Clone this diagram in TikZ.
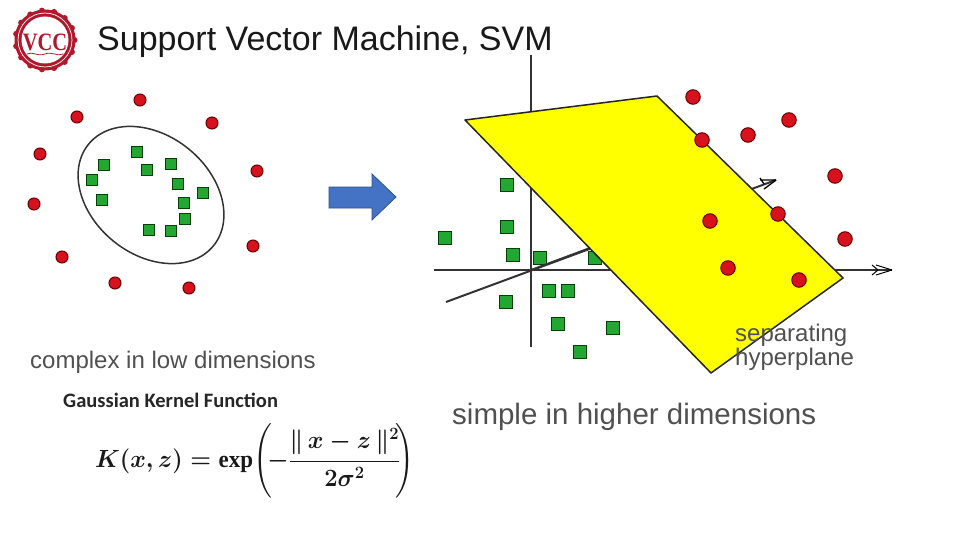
\documentclass[tikz,border=0pt]{standalone}
\usepackage{fontspec}
\usepackage{amsmath}
\setmainfont{Liberation Sans}
\newfontfamily\carl{Carlito}
\newfontfamily\tms{Liberation Serif}
\usetikzlibrary{arrows.meta}
\definecolor{grn}{HTML}{22A832}
\definecolor{redd}{HTML}{D8111E}
\definecolor{logored}{HTML}{B0182C}
\definecolor{lbl}{HTML}{505050}
\definecolor{bluearrow}{HTML}{4472C4}
\definecolor{bluedge}{HTML}{2F528F}
\definecolor{planeyellow}{HTML}{FFFF00}
\newcommand{\kernelformula}{\mbox{\boldmath$\displaystyle K(x,z)=\mbox{\tms\bfseries exp}\!\left(\vcenter{\hbox{\rule{0pt}{74pt}}}\!{-}\frac{\Vert\,x-z\,\Vert^2}{2\sigma^2}\!\right)$}}
\tikzset{
  gs/.style={draw=black!75!green,line width=1pt,fill=grn,minimum size=11pt,inner sep=0pt,shape=rectangle},
  rd/.style={draw=black!60!red,line width=1pt,fill=redd,minimum size=12pt,inner sep=0pt,shape=circle},
  rdb/.style={rd,minimum size=14.5pt},
  gsb/.style={gs,minimum size=12.5pt},
  axis/.style={draw=black!80,line width=2pt},
  lab/.style={text=lbl,inner sep=0pt,anchor=base west}
}
\begin{document}
\begin{tikzpicture}[x=1pt,y=-1pt]
\useasboundingbox (0,0) rectangle (960,540);
\fill[white] (0,0) rectangle (960,540);
% logo
\fill[logored] (45,40) circle (30.5);
\foreach \a in {0,24,...,336}{\fill[logored] (45,40) ++(\a:29.5) circle (3);}
\draw[white,line width=.7pt] (45,40) circle (27);
\fill[white] (45,40) circle (23.5);
\node[inner sep=0pt,text=logored,font=\tms\bfseries\fontsize{25}{25}\selectfont,xscale=.82] (logotext) at (45,42) {VCC};
\draw[logored,line width=.8pt] (27,54) .. controls (33,51) and (37,57) .. (45,54) .. controls (52,51) and (57,57) .. (63,54);
% title
\node[inner sep=0pt,anchor=base west,font=\fontsize{34}{34}\selectfont,text=black!90] (title) at (97,50.5) {Support Vector Machine, SVM};
% left cluster
\draw[black!80,line width=1.5pt,rotate around={-39:(151,195)}] (151,195) ellipse (80.5 and 59.5);
\foreach \p/\q in {140/100,77/117,212/123,40/154,257/171,34/204,253/246,62/257,115/283,189/288}
  \node[rd] at (\p,\q) {};
\foreach \p/\q in {137/152,104/165,147/170,171/164,92/180,178/184,102/200,203/193,184/203,185/219,149/230,171/231}
  \node[gs] at (\p,\q) {};
\node[lab,font=\fontsize{24}{24}\selectfont] (lowlab) at (30,368) {complex in low dimensions};
% block arrow
\draw[draw=bluedge,line width=.8pt,fill=bluearrow,line join=miter] (329,187) -- (372,187) -- (372,174) -- (396,197) -- (372,220) -- (372,208) -- (329,208) -- cycle;
% axes
\coordinate (ot) at (531,55); \coordinate (ob) at (531,347);
\coordinate (hl) at (434,270); \coordinate (hr) at (892,270);
\coordinate (dl) at (446,302); \coordinate (dr) at (776,180);
\draw[axis] (ot) -- (ob);
\draw[axis] (hl) -- (hr);
\draw[axis] (dl) -- (dr);
\draw[black,line width=1pt] (hr) -- ++(-16,-5) (hr) -- ++(-16,5) (hr) ++(-14,0) -- ++(-6,-5) (hr) ++(-14,0) -- ++(-6,5);
\draw[black,line width=1.3pt] (dr) -- ++(-16,0) (dr) -- ++(-12,9) (dr) ++(-12,4) -- ++(-4,-6);
% green right
\foreach \p/\q in {507/185,507/227,445/238,513/255,540/258,595/258,549/291,568/291,506/302,558/324,613/328,580/352}
  \node[gsb] at (\p,\q) {};
\draw[axis] (531,258) -- (531,275);
\draw[axis] (520,270) -- (600,270);
\draw[axis] (531,270) -- (590,248);
% plane
\draw[fill=planeyellow,draw=black!85,line width=1.5pt,line join=round] (465,120) -- (657,96) -- (843,278) -- (711,373) -- cycle;
% red right
\foreach \p/\q in {693/97,702/140,748/135,789/120,835/176,710/221,778/214,845/239,728/268,799/280}
  \node[rdb] at (\p,\q) {};
% labels
\node[lab,font=\fontsize{24}{24}\selectfont] (hyp1) at (735,341) {separating};
\node[lab,font=\fontsize{24}{24}\selectfont] (hyp2) at (735,365) {hyperplane};
\node[lab,font=\fontsize{29.5}{30}\selectfont] (highlab) at (452,424) {simple in higher dimensions};
\node[inner sep=0pt,anchor=base west,font=\carl\bfseries\fontsize{20.5}{21}\selectfont,text=black!85] (gk) at (63,407) {Gaussian Kernel Function};
\node[inner sep=0pt,anchor=west,text=black!90,font=\fontsize{24}{24}\selectfont,xscale=.955] (formula) at (95,461) {\kernelformula};
\end{tikzpicture}
\end{document}
